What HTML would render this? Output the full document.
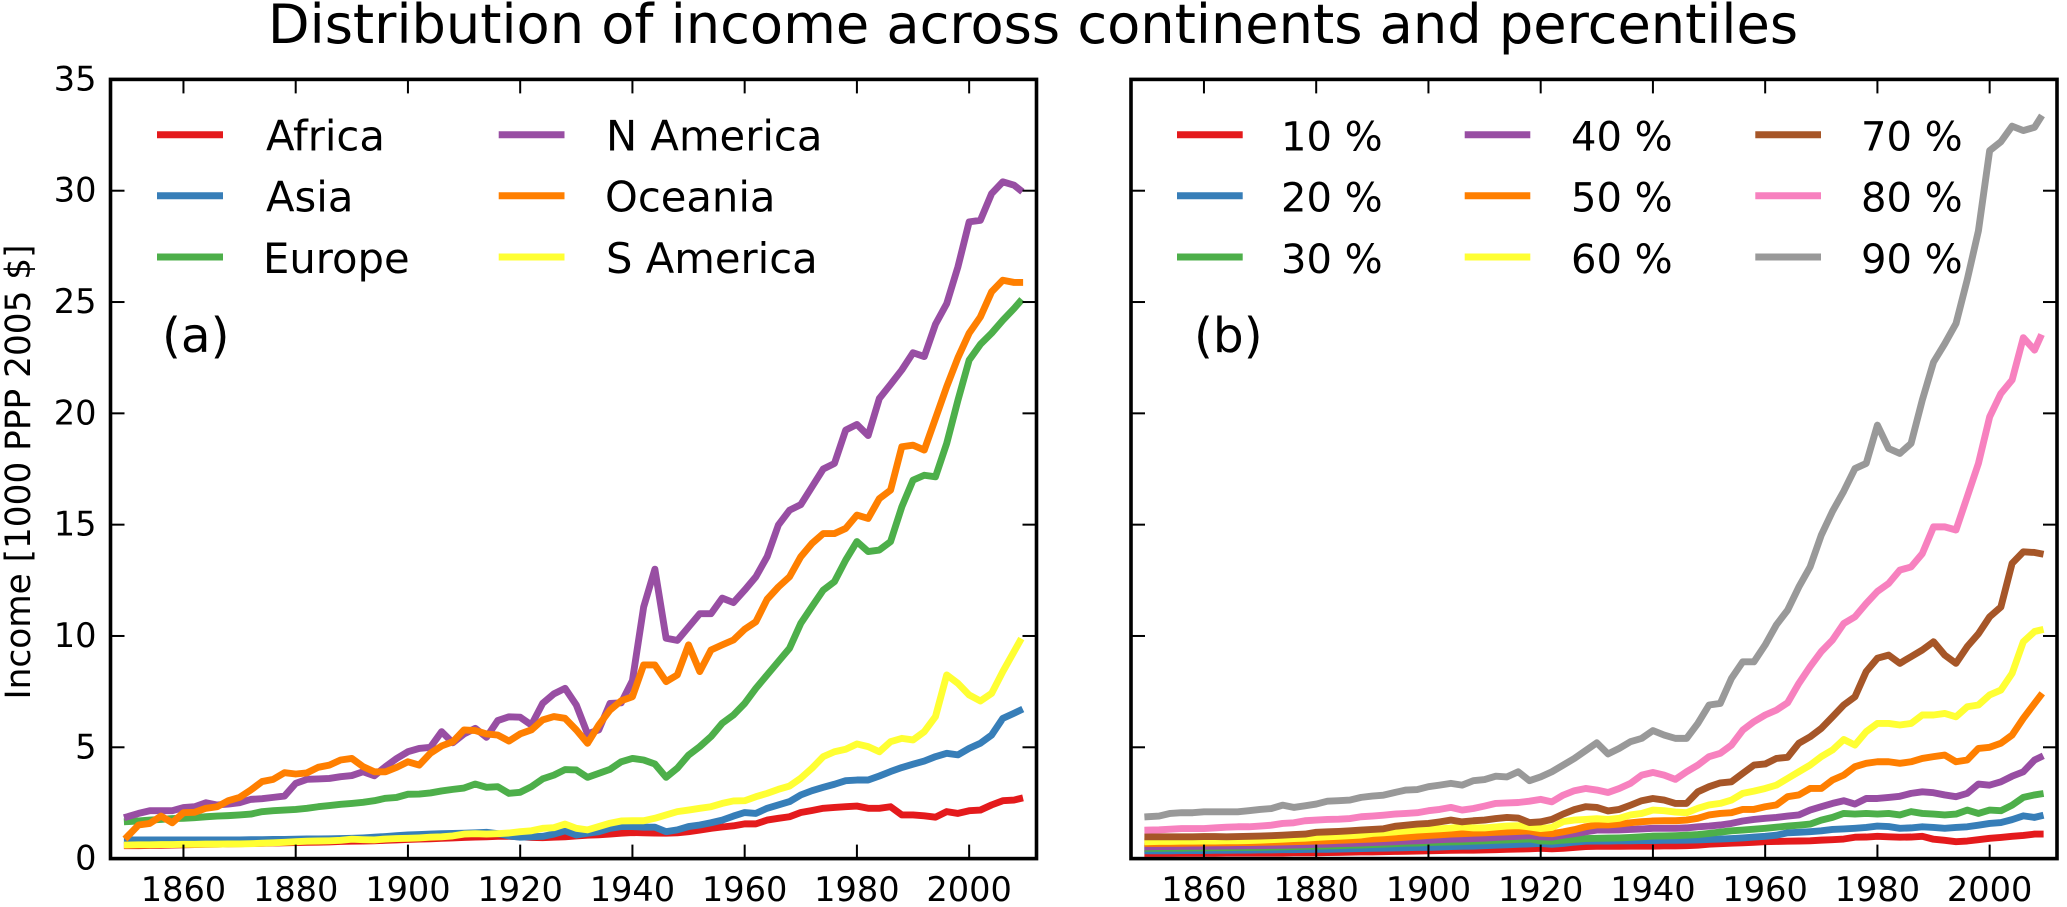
<!DOCTYPE html>
<html lang="en">
<head>
<meta charset="utf-8">
<title>Distribution of income across continents and percentiles</title>
<style>
html,body{margin:0;padding:0;background:#fff;}
svg{display:block;font-family:"DejaVu Sans","Liberation Sans",sans-serif;fill:#000;}
.leg{font-size:41.7px;}
.legp{font-size:40px;}
</style>
</head>
<body>
<svg id="chart" xmlns="http://www.w3.org/2000/svg" width="2067" height="907" viewBox="0 0 2067 907">
  <rect x="0" y="0" width="2067" height="907" fill="#fff"/>
  <text x="1033" y="43" text-anchor="middle" font-size="54.2">Distribution of income across continents and percentiles</text>
  <text transform="translate(30,472) rotate(-90)" text-anchor="middle" font-size="34.3">Income [1000 PPP 2005 $]</text>

  <g id="panel-a"></g>
  <g id="panel-b"></g>

  <text x="162" y="352" font-size="48.5">(a)</text>
  <text x="1194" y="352" font-size="48.5">(b)</text>

  <g stroke-width="7">
    <g><line x1="157" x2="223" y1="134.7" y2="134.7" stroke="#e41a1c"/><text class="leg" x="266" y="150.5" stroke="none">Africa</text></g>
    <g><line x1="157" x2="223" y1="195.8" y2="195.8" stroke="#377eb8"/><text class="leg" x="266" y="211.6" stroke="none">Asia</text></g>
    <g><line x1="157" x2="223" y1="257" y2="257" stroke="#4daf4a"/><text class="leg" x="263" y="272.8" stroke="none">Europe</text></g>
    <g><line x1="498.7" x2="564.5" y1="134.7" y2="134.7" stroke="#984ea3"/><text class="leg" x="606" y="150.5" stroke="none">N America</text></g>
    <g><line x1="498.7" x2="564.5" y1="195.8" y2="195.8" stroke="#ff7f00"/><text class="leg" x="605" y="211.6" stroke="none">Oceania</text></g>
    <g><line x1="498.7" x2="564.5" y1="257" y2="257" stroke="#ffff33"/><text class="leg" x="606" y="272.8" stroke="none">S America</text></g>
  </g>

  <g stroke-width="7">
    <g><line x1="1177" x2="1242.7" y1="134.7" y2="134.7" stroke="#e41a1c"/><text class="legp" x="1281" y="150.5" stroke="none">10 %</text></g>
    <g><line x1="1177" x2="1242.7" y1="195.8" y2="195.8" stroke="#377eb8"/><text class="legp" x="1281" y="211.6" stroke="none">20 %</text></g>
    <g><line x1="1177" x2="1242.7" y1="257" y2="257" stroke="#4daf4a"/><text class="legp" x="1281" y="272.8" stroke="none">30 %</text></g>
    <g><line x1="1464.7" x2="1530.3" y1="134.7" y2="134.7" stroke="#984ea3"/><text class="legp" x="1571" y="150.5" stroke="none">40 %</text></g>
    <g><line x1="1464.7" x2="1530.3" y1="195.8" y2="195.8" stroke="#ff7f00"/><text class="legp" x="1571" y="211.6" stroke="none">50 %</text></g>
    <g><line x1="1464.7" x2="1530.3" y1="257" y2="257" stroke="#ffff33"/><text class="legp" x="1571" y="272.8" stroke="none">60 %</text></g>
    <g><line x1="1755.3" x2="1821" y1="134.7" y2="134.7" stroke="#a65628"/><text class="legp" x="1861" y="150.5" stroke="none">70 %</text></g>
    <g><line x1="1755.3" x2="1821" y1="195.8" y2="195.8" stroke="#f781bf"/><text class="legp" x="1861" y="211.6" stroke="none">80 %</text></g>
    <g><line x1="1755.3" x2="1821" y1="257" y2="257" stroke="#999999"/><text class="legp" x="1861" y="272.8" stroke="none">90 %</text></g>
  </g>
</svg>
<script>
// Shared sampling years: every second year 1850-2008, then 2009
var years = [
1850,1852,1854,1856,1858, 1860,1862,1864,1866,1868,
1870,1872,1874,1876,1878, 1880,1882,1884,1886,1888,
1890,1892,1894,1896,1898, 1900,1902,1904,1906,1908,
1910,1912,1914,1916,1918, 1920,1922,1924,1926,1928,
1930,1932,1934,1936,1938, 1940,1942,1944,1946,1948,
1950,1952,1954,1956,1958, 1960,1962,1964,1966,1968,
1970,1972,1974,1976,1978, 1980,1982,1984,1986,1988,
1990,1992,1994,1996,1998, 2000,2002,2004,2006,2008,
2009];
var xTickLabels = [1860,1880,1900,1920,1940,1960,1980,2000];
var yTickLabels = [0,5,10,15,20,25,30,35];

var africa = [
.58,.58,.59,.6,.61, .62,.63,.64,.65,.66,
.67,.68,.69,.7,.71, .72,.73,.74,.75,.77,
.78,.79,.8,.82,.84, .86,.88,.89,.91,.93,
.95,.97,.98,1.0,1.0, .98,.95,.94,.96,.98,
1.02,1.05,1.07,1.1,1.14, 1.17,1.16,1.15,1.14,1.16,
1.21,1.28,1.36,1.42,1.47, 1.56,1.56,1.73,1.81,1.88,
2.07,2.16,2.26,2.3,2.33, 2.36,2.26,2.26,2.33,1.96,
1.96,1.92,1.86,2.11,2.03, 2.15,2.18,2.41,2.6,2.63,
2.69];
var asia = [
.84,.84,.84,.84,.84, .84,.84,.84,.84,.84,
.84,.85,.85,.86,.86, .87,.88,.88,.89,.9,
.91,.93,.96,.99,1.03, 1.06,1.08,1.1,1.12,1.13,
1.14,1.16,1.18,1.12,1.02, .96,.98,1.0,1.1,1.25,
1.06,1.14,1.21,1.36,1.44, 1.44,1.41,1.41,1.21,1.29,
1.44,1.51,1.61,1.73,1.91, 2.07,2.03,2.26,2.41,2.56,
2.86,3.05,3.2,3.34,3.5, 3.53,3.53,3.71,3.91,4.09,
4.24,4.38,4.58,4.73,4.66, 4.95,5.18,5.55,6.3,6.53,
6.65];
var europe = [
1.66,1.69,1.73,1.76,1.8, 1.81,1.84,1.88,1.91,1.93,
1.96,2.0,2.11,2.15,2.18, 2.21,2.26,2.33,2.38,2.44,
2.48,2.53,2.6,2.71,2.75, 2.89,2.9,2.95,3.04,3.11,
3.17,3.35,3.2,3.23,2.93, 2.98,3.23,3.58,3.75,4.0,
3.98,3.65,3.83,4.01,4.35, 4.5,4.43,4.25,3.65,4.06,
4.65,5.03,5.48,6.08,6.45, 6.97,7.65,8.25,8.85,9.45,
10.57,11.32,12.06,12.44,13.41, 14.24,13.79,13.86,14.24,15.8,
17.0,17.22,17.15,18.65,20.59, 22.39,23.1,23.6,24.18,24.71,
25.0];
var nAmerica = [
1.88,2.03,2.15,2.15,2.15, 2.29,2.33,2.51,2.41,2.45,
2.51,2.66,2.69,2.75,2.81, 3.38,3.56,3.58,3.6,3.68,
3.73,3.9,3.72,4.13,4.5, 4.8,4.95,5.0,5.7,5.2,
5.6,5.85,5.45,6.2,6.37, 6.35,6.0,6.97,7.4,7.65,
6.9,5.6,5.78,6.97,7.0, 8.0,11.3,13.0,9.9,9.8,
10.4,11.0,11.0,11.7,11.5, 12.06,12.66,13.56,14.98,15.65,
15.9,16.7,17.5,17.75,19.25, 19.5,19.0,20.67,21.3,21.95,
22.72,22.55,24.0,24.93,26.58, 28.6,28.67,29.87,30.4,30.25,
30.05];
var oceania = [
.99,1.51,1.58,1.91,1.61, 2.06,2.08,2.26,2.33,2.6,
2.75,3.08,3.46,3.56,3.86, 3.8,3.85,4.1,4.2,4.43,
4.5,4.13,3.9,3.9,4.1, 4.35,4.2,4.73,5.06,5.25,
5.78,5.75,5.6,5.55,5.28, 5.6,5.78,6.23,6.38,6.3,
5.78,5.18,6.0,6.67,7.09, 7.27,8.7,8.7,7.95,8.25,
9.6,8.4,9.37,9.6,9.82, 10.3,10.64,11.65,12.2,12.66,
13.56,14.16,14.6,14.6,14.83, 15.43,15.28,16.17,16.55,18.5,
18.57,18.35,19.77,21.2,22.5, 23.6,24.33,25.46,25.98,25.88,
25.88];
var sAmerica = [
.61,.62,.62,.63,.63, .64,.64,.65,.65,.66,
.66,.67,.69,.71,.73, .76,.78,.79,.8,.82,
.87,.85,.84,.88,.9, .91,.93,.96,.98,1.02,
1.1,1.12,1.1,1.12,1.15, 1.21,1.25,1.36,1.39,1.55,
1.36,1.29,1.44,1.59,1.69, 1.7,1.7,1.81,1.96,2.11,
2.18,2.26,2.33,2.48,2.59, 2.6,2.78,2.93,3.11,3.26,
3.61,4.06,4.58,4.8,4.91, 5.15,5.03,4.8,5.25,5.4,
5.33,5.7,6.38,8.25,7.87, 7.35,7.08,7.42,8.4,9.3,
9.75];

var p10 = [
.23,.23,.23,.24,.24, .24,.24,.25,.25,.25,
.25,.25,.25,.26,.26, .26,.27,.28,.29,.3,
.3,.31,.32,.33,.34, .35,.36,.37,.38,.38,
.39,.4,.42,.43,.44, .46,.44,.46,.5,.54,
.55,.55,.55,.56,.56, .56,.57,.57,.58,.6,
.65,.67,.69,.71,.73, .76,.77,.78,.79,.8,
.83,.85,.88,.96,.97, 1.0,.98,.96,.97,1.0,
.87,.82,.76,.79,.85, .91,.95,1.0,1.04,1.1,
1.1];
var p20 = [
.35,.35,.35,.36,.36, .36,.37,.37,.38,.38,
.39,.39,.4,.4,.41, .42,.42,.43,.44,.45,
.46,.47,.48,.49,.5, .5,.52,.54,.55,.56,
.58,.6,.62,.64,.66, .68,.64,.68,.74,.78,
.79,.79,.8,.8,.81, .81,.82,.82,.83,.84,
.86,.88,.9,.93,.97, 1.0,1.05,1.16,1.18,1.21,
1.25,1.31,1.33,1.36,1.4, 1.46,1.44,1.36,1.38,1.43,
1.4,1.36,1.4,1.43,1.5, 1.58,1.62,1.75,1.92,1.85,
1.91];
var p30 = [
.46,.46,.47,.47,.48, .48,.49,.49,.5,.5,
.51,.52,.53,.54,.55, .56,.57,.58,.6,.61,
.63,.65,.67,.69,.7, .72,.74,.75,.76,.78,
.8,.82,.84,.86,.88, .8,.78,.83,.86,.9,
.91,.92,.93,.95,.98, 1.01,1.02,1.03,1.05,1.08,
1.13,1.19,1.25,1.28,1.32, 1.36,1.41,1.46,1.5,1.55,
1.73,1.85,2.03,2.0,2.03, 2.0,2.03,1.96,2.11,2.03,
2.0,1.96,2.0,2.18,2.03, 2.18,2.15,2.4,2.75,2.86,
2.9];
var p40 = [
.53,.54,.54,.55,.55, .56,.56,.57,.57,.58,
.58,.59,.6,.61,.62, .64,.65,.67,.68,.7,
.72,.74,.76,.78,.8, .82,.85,.87,.88,.9,
.92,.95,.98,1.0,1.03, .98,.96,1.05,1.12,1.2,
1.28,1.28,1.29,1.31,1.33, 1.36,1.36,1.36,1.38,1.43,
1.46,1.51,1.58,1.69,1.76, 1.81,1.85,1.91,1.96,2.18,
2.33,2.48,2.6,2.45,2.7, 2.7,2.75,2.8,2.93,3.0,
2.96,2.86,2.78,2.93,3.35, 3.3,3.45,3.7,3.9,4.43,
4.55];
var p50 = [
.68,.68,.69,.69,.7, .7,.71,.71,.72,.72,
.73,.74,.75,.76,.77, .79,.8,.82,.84,.86,
.88,.9,.93,.96,1.0, 1.04,1.07,1.1,1.12,1.14,
1.16,1.18,1.2,1.22,1.24, 1.14,1.12,1.2,1.3,1.43,
1.51,1.51,1.55,1.61,1.66, 1.69,1.7,1.7,1.73,1.81,
1.96,2.03,2.06,2.21,2.21, 2.33,2.41,2.78,2.86,3.15,
3.15,3.53,3.75,4.13,4.28, 4.35,4.35,4.28,4.35,4.5,
4.58,4.65,4.35,4.43,4.95, 5.0,5.18,5.55,6.3,6.97,
7.3];
var p60 = [
.76,.77,.77,.78,.78, .79,.79,.8,.8,.81,
.83,.85,.87,.9,.92, .95,.98,1.0,1.03,1.06,
1.13,1.16,1.2,1.24,1.28, 1.31,1.34,1.37,1.42,1.38,
1.38,1.42,1.46,1.48,1.42, 1.35,1.4,1.66,1.73,1.76,
1.79,1.76,1.81,1.96,2.03, 2.18,2.15,2.09,2.06,2.26,
2.41,2.48,2.63,2.93,3.03, 3.15,3.3,3.6,3.9,4.2,
4.58,4.88,5.35,5.1,5.7, 6.07,6.07,6.0,6.07,6.45,
6.45,6.52,6.37,6.82,6.9, 7.35,7.57,8.32,9.74,10.2,
10.26];
var p70 = [
.98,.98,.98,.98,.98, .99,.99,.98,.99,1.0,
1.01,1.03,1.05,1.08,1.1, 1.18,1.2,1.22,1.25,1.28,
1.31,1.34,1.45,1.5,1.55, 1.58,1.65,1.73,1.65,1.7,
1.73,1.8,1.85,1.82,1.62, 1.65,1.76,2.0,2.2,2.33,
2.3,2.14,2.21,2.4,2.6, 2.7,2.63,2.48,2.48,3.0,
3.23,3.4,3.45,3.83,4.2, 4.25,4.5,4.55,5.18,5.47,
5.85,6.37,6.9,7.27,8.4, 9.0,9.14,8.77,9.07,9.37,
9.74,9.14,8.77,9.52,10.1, 10.86,11.3,13.26,13.78,13.75,
13.7];
var p80 = [
1.28,1.29,1.32,1.35,1.35, 1.35,1.38,1.41,1.43,1.43,
1.46,1.5,1.58,1.61,1.7, 1.73,1.76,1.77,1.8,1.88,
1.91,1.95,2.0,2.03,2.06, 2.15,2.21,2.3,2.18,2.25,
2.36,2.48,2.5,2.52,2.58, 2.66,2.55,2.85,3.05,3.15,
3.08,2.97,3.15,3.38,3.75, 3.87,3.75,3.56,3.9,4.2,
4.58,4.73,5.1,5.77,6.15, 6.45,6.67,7.0,7.87,8.62,
9.3,9.82,10.56,10.86,11.46, 12.0,12.36,12.96,13.1,13.7,
14.9,14.9,14.76,16.25,17.75, 19.84,20.89,21.5,23.4,22.84,
23.4];
var p90 = [
1.88,1.91,2.03,2.06,2.06, 2.1,2.1,2.1,2.1,2.15,
2.21,2.25,2.4,2.3,2.37, 2.45,2.58,2.6,2.63,2.75,
2.81,2.85,2.97,3.08,3.1, 3.23,3.3,3.38,3.3,3.5,
3.55,3.7,3.67,3.9,3.5, 3.67,3.9,4.2,4.5,4.85,
5.2,4.7,4.95,5.25,5.4, 5.75,5.55,5.4,5.4,6.07,
6.9,6.97,8.1,8.84,8.84, 9.6,10.5,11.16,12.2,13.1,
14.53,15.6,16.5,17.52,17.75, 19.47,18.42,18.2,18.65,20.6,
22.3,23.13,24.03,26.0,28.2, 31.8,32.2,32.9,32.7,32.85,
33.25];

var continentSeries = [africa, asia, europe, nAmerica, oceania, sAmerica];
var continentNames = ['africa','asia','europe','n-america','oceania','s-america'];
var percentileSeries = [p10, p20, p30, p40, p50, p60, p70, p80, p90];
var percentileNames = ['10','20','30','40','50','60','70','80','90'];
var palette = ['#e41a1c','#377eb8','#4daf4a','#984ea3','#ff7f00','#ffff33','#a65628','#f781bf','#999999'];

var NS = 'http://www.w3.org/2000/svg';
var xMin = 1847, xMax = 2012, yMin = 0, yMax = 35;
var top_ = 79.4, bottom_ = 858.6, plotW = 926;

function yScale(v){ return bottom_ - (v - yMin) / (yMax - yMin) * (bottom_ - top_); }

function tickLine(parent, x1, y1, x2, y2){
  var t = document.createElementNS(NS, 'line');
  
  
  t.setAttribute('x1', x1); t.setAttribute('y1', y1);
  t.setAttribute('x2', x2); t.setAttribute('y2', y2);
  t.setAttribute('stroke', '#000');
  t.setAttribute('stroke-width', '2');
  parent.appendChild(t);
}

function drawPanel(group, left, series, names, showYLabels){
  function xScale(yr){ return left + (yr - xMin) / (xMax - xMin) * plotW; }

  series.forEach(function(vals, i){
    var d = vals.map(function(v, k){
      return (k ? 'L' : 'M') + xScale(years[k]).toFixed(2) + ' ' + yScale(v).toFixed(2);
    }).join('');
    var p = document.createElementNS(NS, 'path');
    
    
    p.setAttribute('d', d);
    p.setAttribute('fill', 'none');
    p.setAttribute('stroke', palette[i]);
    p.setAttribute('stroke-width', '6.9');
    p.setAttribute('stroke-linejoin', 'round');
    p.setAttribute('stroke-linecap', 'square');
    group.appendChild(p);
  });

  xTickLabels.forEach(function(yr){
    var x = xScale(yr);
    tickLine(group, x, bottom_, x, bottom_ - 14);
    tickLine(group, x, top_, x, top_ + 14);
    var t = document.createElementNS(NS, 'text');
    
    
    t.setAttribute('x', x);
    t.setAttribute('y', 901);
    t.setAttribute('text-anchor', 'middle');
    t.setAttribute('font-size', '33.6');
    t.textContent = yr;
    group.appendChild(t);
  });

  yTickLabels.forEach(function(v){
    var y = yScale(v);
    tickLine(group, left, y, left + 14, y);
    tickLine(group, left + plotW, y, left + plotW - 14, y);
    if (showYLabels) {
      var t = document.createElementNS(NS, 'text');
      
      
      t.setAttribute('x', left - 14);
      t.setAttribute('y', y + 11);
      t.setAttribute('text-anchor', 'end');
      t.setAttribute('font-size', '33.6');
      t.textContent = v;
      group.appendChild(t);
    }
  });

  var frame = document.createElementNS(NS, 'rect');
  
  
  frame.setAttribute('x', left);
  frame.setAttribute('y', top_);
  frame.setAttribute('width', plotW);
  frame.setAttribute('height', bottom_ - top_);
  frame.setAttribute('fill', 'none');
  frame.setAttribute('stroke', '#000');
  frame.setAttribute('stroke-width', '3.6');
  group.appendChild(frame);
}

drawPanel(document.getElementById('panel-a'), 110.5, continentSeries, continentNames, true);
drawPanel(document.getElementById('panel-b'), 1131, percentileSeries, percentileNames, false);
</script>
</body>
</html>
